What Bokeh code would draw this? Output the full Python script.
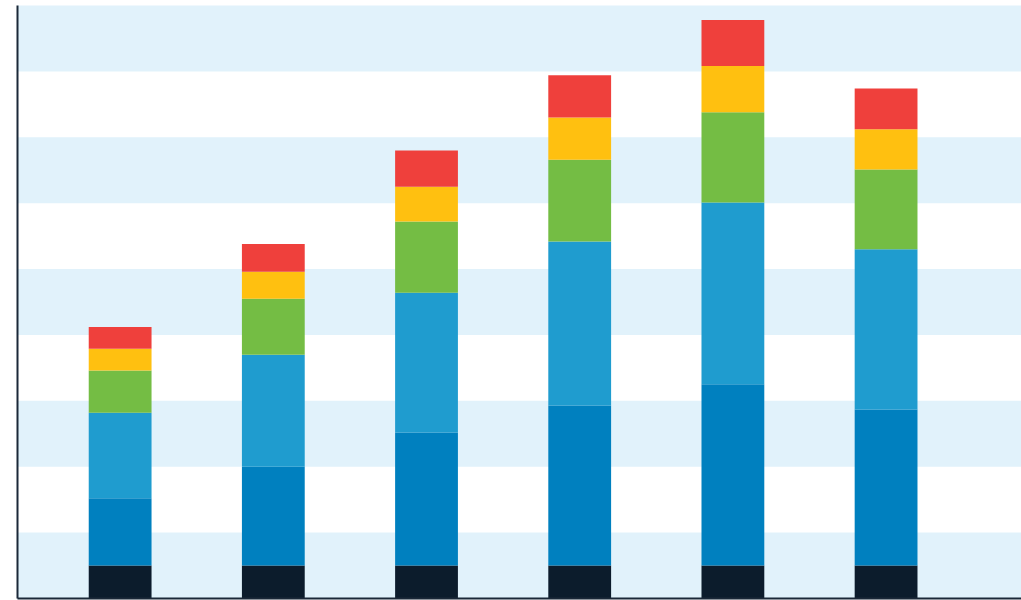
from bokeh.plotting import figure
from bokeh.models import ColumnDataSource, FixedTicker, Range1d
from bokeh.embed import file_html
from bokeh.resources import INLINE

categories = [0, 1, 2, 3, 4, 5]
series_names = ["s1", "s2", "s3", "s4", "s5", "s6"]
s1 = [5.0, 5.0, 5.0, 5.0, 5.0, 5.0]
s2 = [10.2, 15.0, 20.2, 24.3, 27.5, 23.7]
s3 = [13.0, 17.0, 21.2, 24.9, 27.6, 24.3]
s4 = [6.4, 8.5, 10.8, 12.4, 13.7, 12.1]
s5 = [3.3, 4.1, 5.3, 6.4, 7.0, 6.1]
s6 = [3.3, 4.2, 5.5, 6.4, 7.0, 6.2]
colors = ["#0c1c2c", "#0080bf", "#1f9ccf", "#74bd44", "#ffc010", "#ef403c"]
y_ticks = [0, 10, 20, 30, 40, 50, 60, 70, 80, 90]

data = dict(x=categories, s1=s1, s2=s2, s3=s3, s4=s4, s5=s5, s6=s6)
source = ColumnDataSource(data)

p = figure(width=1021, height=600, output_backend="svg", toolbar_location=None,
           x_range=Range1d(-0.67, 5.884), y_range=Range1d(0, 90),
           min_border_left=17, min_border_right=0, min_border_top=5, min_border_bottom=2)

p.vbar_stack(series_names, x="x", width=0.41, color=colors, source=source, line_color=None)

p.background_fill_color = "#e1f2fb"
p.border_fill_color = "white"
p.outline_line_color = None
p.xgrid.grid_line_color = None
p.ygrid.grid_line_color = None
p.ygrid.ticker = FixedTicker(ticks=y_ticks)
p.ygrid.band_fill_color = "white"
p.ygrid.band_fill_alpha = 1.0

for ax in [p.xaxis[0], p.yaxis[0]]:
    ax.ticker = FixedTicker(ticks=[])
    ax.major_tick_line_color = None
    ax.minor_tick_line_color = None
    ax.major_label_standoff = 0
    ax.major_tick_out = 0
    ax.major_tick_in = 0
    ax.axis_line_color = "#1b2838"
    ax.axis_line_width = 2

open("out.html", "w").write(file_html(p, INLINE))
